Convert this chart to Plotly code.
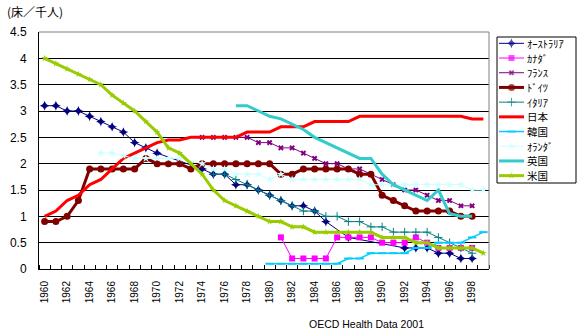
import plotly.graph_objects as go

years = list(range(1960, 2000))
N = None

# Hospital beds per 1000 (acute care)
australia = [3.1, 3.1, 3.0, 3.0, 2.9, 2.8, 2.7, 2.6, 2.4, 2.3,
             2.2, N, N, N, 1.9, 1.8, 1.8, 1.6, 1.6, 1.5,
             1.4, 1.3, 1.2, 1.2, 1.1, 0.9, N, 0.6, N, N,
             N, N, 0.4, 0.4, 0.4, 0.3, 0.3, 0.2, 0.2, N]
canada_start = 1981
canada = [0.6, 0.2, 0.2, 0.2, 0.2, 0.6, 0.6, 0.6, 0.6, 0.5, 0.5, 0.5, 0.6, 0.5, 0.4, 0.4, 0.4, 0.4]
france_start = 1974
france = [2.5, 2.5, 2.5, 2.5, 2.5, 2.4, 2.4, 2.3, 2.3, 2.2, 2.1, 2.0, 2.0, 1.9, 1.9, 1.8,
          1.7, 1.6, 1.5, 1.5, 1.4, 1.3, 1.3, 1.2, 1.2]
germany_start = 1960
germany = [0.9, 0.9, 1.0, 1.3, 1.9, 1.9, 1.9, 1.9, 1.9, 2.1,
           2.0, 2.0, 2.0, 1.9, 2.0, 2.0, 2.0, 2.0, 2.0, 2.0,
           2.0, 1.8, 1.8, 1.9, 1.9, 1.9, 1.9, 1.9, 1.8, 1.8,
           1.4, 1.3, 1.2, 1.1, 1.1, 1.1, 1.1, 1.0, 1.0]
italy_start = 1975
italy = [1.8, 1.8, 1.7, 1.6, 1.5, 1.4, 1.3, 1.2, 1.1, 1.1, 1.0, 1.0, 0.9, 0.9, 0.8,
         0.8, 0.7, 0.7, 0.7, 0.7, 0.6, 0.5, 0.4, 0.3]
japan_start = 1960
japan = [1.0, 1.1, 1.3, 1.4, 1.6, 1.7, 1.9, 2.1, 2.2, 2.3,
         2.4, 2.45, 2.45, 2.5, 2.5, 2.5, 2.5, 2.5, 2.6, 2.6,
         2.6, 2.7, 2.7, 2.7, 2.8, 2.8, 2.8, 2.8, 2.9, 2.9,
         2.9, 2.9, 2.9, 2.9, 2.9, 2.9, 2.9, 2.9, 2.85, 2.85]
korea_start = 1980
korea = [0.1, 0.1, 0.1, 0.1, 0.1, 0.1, 0.1, 0.2, 0.2, 0.3,
         0.3, 0.3, 0.3, 0.4, 0.4, 0.5, 0.5, 0.5, 0.6, 0.7]
netherlands = [N, N, N, N, N, 2.2, 2.2, 2.15, 2.1, 2.1,
               2.1, 2.1, 2.1, N, 2.0, 1.9, 1.9, 1.8, 1.8, 1.8,
               1.7, 1.8, 1.7, 1.7, 1.7, 1.7, 1.7, 1.7, 1.7, 1.6,
               1.6, 1.6, 1.6, 1.6, 1.6, 1.6, 1.6, 1.6, 1.5, 1.5]
uk_start = 1977
uk = [3.1, 3.1, 3.0, 2.9, 2.85, 2.75, 2.65, 2.5, 2.4, 2.3, 2.2, 2.1, 2.1,
      1.8, 1.6, 1.5, 1.4, 1.3, 1.5, 1.05, 1.0, 1.0]
usa_start = 1960
usa = [4.0, 3.9, 3.8, 3.7, 3.6, 3.5, 3.3, 3.15, 3.0, 2.8,
       2.6, 2.3, 2.2, 2.0, 1.8, 1.5, 1.3, 1.2, 1.1, 1.0,
       0.9, 0.9, 0.8, 0.8, 0.7, 0.7, 0.7, 0.7, 0.7, 0.7,
       0.6, 0.6, 0.6, 0.5, 0.5, 0.4, 0.4, 0.4, 0.4, 0.3]

names = ["ｵｰｽﾄﾗﾘｱ", "ｶﾅﾀﾞ", "ﾌﾗﾝｽ", "ﾄﾞｲﾂ", "ｲﾀﾘｱ", "日本", "韓国", "ｵﾗﾝﾀﾞ", "英国", "米国"]
y_ticks = [0, 0.5, 1, 1.5, 2, 2.5, 3, 3.5, 4, 4.5]
y_ticktext = ["0", "0.5", "1", "1.5", "2", "2.5", "3", "3.5", "4", "4.5"]
x_ticks = list(range(1960, 2000, 2))


def pad(start, vals):
    out = [None] * len(years)
    for i, v in enumerate(vals):
        out[start - years[0] + i] = v
    return out


data = [
    australia,
    pad(canada_start, canada),
    pad(france_start, france),
    pad(germany_start, germany),
    pad(italy_start, italy),
    pad(japan_start, japan),
    pad(korea_start, korea),
    netherlands,
    pad(uk_start, uk),
    pad(usa_start, usa),
]

styles = [
    dict(color="#000080", width=1, symbol="star-diamond", size=7, mlw=0),
    dict(color="#FF00FF", width=1, symbol="square", size=6, mlw=0),
    dict(color="#800080", width=1, symbol="x", size=5, mlw=0),
    dict(color="#800000", width=3, symbol="circle", size=7, mlw=0),
    dict(color="#008080", width=1, symbol="cross-thin", size=6, mlw=1),
    dict(color="#FF0000", width=3, symbol=None, size=0, mlw=0),
    dict(color="#00CCFF", width=1.5, symbol="line-ew", size=6, mlw=2),
    dict(color="#CCFFFF", width=1, symbol="star", size=6, mlw=0),
    dict(color="#33CCCC", width=3, symbol=None, size=0, mlw=0),
    dict(color="#99CC00", width=3, symbol="star", size=5, mlw=0),
]

fig = go.Figure()

for nm, vals, st in zip(names, data, styles):
    marker = dict(color=st["color"], size=st["size"],
                  line=dict(color=st["color"], width=st["mlw"]))
    if st["symbol"]:
        marker["symbol"] = st["symbol"]
    fig.add_trace(go.Scatter(
        x=years, y=vals, name=nm, connectgaps=True,
        mode="lines+markers" if st["symbol"] else "lines",
        line=dict(color=st["color"], width=st["width"]),
        marker=marker, showlegend=False,
        xaxis="x", yaxis="y",
    ))

# Manual legend (compact, like the original)
for k, (nm, st) in enumerate(zip(names, styles)):
    marker = dict(color=st["color"], size=[0, st["size"], 0],
                  line=dict(color=st["color"], width=st["mlw"]))
    if st["symbol"]:
        marker["symbol"] = st["symbol"]
    fig.add_trace(go.Scatter(
        x=[2, 14.5, 27], y=[k, k, k], mode="lines+markers" if st["symbol"] else "lines",
        line=dict(color=st["color"], width=st["width"]), marker=marker,
        showlegend=False, xaxis="x2", yaxis="y2", hoverinfo="skip",
    ))
    fig.add_annotation(x=28, y=k, xref="x2", yref="y2", text=nm, showarrow=False,
                       xanchor="left", yanchor="middle",
                       font=dict(family="Noto Sans CJK JP", size=10.5, color="black"))

W, H = 580, 335
ml, mr, mt, mb = 39, 4, 32, 66
pw = W - ml - mr
ph = H - mt - mb

fig.update_layout(
    width=W, height=H,
    margin=dict(l=ml, r=mr, t=mt, b=mb, pad=0),
    paper_bgcolor="white", plot_bgcolor="white",
    font=dict(family="Liberation Sans, Arial", color="black"),
    xaxis=dict(
        domain=[0, 450 / pw], range=[1959.5, 1999.5],
        tickmode="array", tickvals=x_ticks, ticktext=[str(v) for v in x_ticks],
        tickangle=-90, tickfont=dict(size=10, family="Liberation Sans, Arial"),
        ticks="", showgrid=False, zeroline=False,
        showline=True, linecolor="black", linewidth=1,
        ticklabelstandoff=7,
        minor=dict(tickmode="linear", tick0=1959.5, dtick=1, ticks="inside",
                   ticklen=4, tickcolor="black", tickwidth=1, showgrid=False),
    ),
    yaxis=dict(
        range=[0, 4.5], tickmode="array", tickvals=y_ticks, ticktext=y_ticktext,
        tickfont=dict(size=12, family="Liberation Sans, Arial"),
        showgrid=True, gridcolor="black", gridwidth=1, zeroline=False,
        showline=True, linecolor="black", linewidth=1, ticks="",
        ticklabelstandoff=9,
    ),
    xaxis2=dict(domain=[(497 - ml) / pw, (576 - ml) / pw], range=[0, 79],
                anchor="y2", visible=False, fixedrange=True),
    yaxis2=dict(domain=[(H - mb - 183) / ph, (H - mb - 37) / ph], range=[9.5, -0.43],
                anchor="x2", visible=False, fixedrange=True),
    shapes=[
        dict(type="line", xref="x domain", yref="y domain", x0=0, x1=1, y0=1, y1=1,
             line=dict(color="#808080", width=1)),
        dict(type="line", xref="x domain", yref="y domain", x0=1, x1=1, y0=0, y1=1,
             line=dict(color="#808080", width=1)),
        dict(type="rect", xref="x2 domain", yref="y2 domain", x0=0, x1=1, y0=0, y1=1,
             line=dict(color="black", width=1), fillcolor="rgba(0,0,0,0)", layer="below"),
    ],
)

fig.add_annotation(x=(5 - ml) / pw, y=(H - mb - 12) / ph, xref="paper", yref="paper",
                   text="(床／千人)", showarrow=False, xanchor="left", yanchor="middle",
                   font=dict(family="Noto Sans CJK JP", size=12, color="black"))
fig.add_annotation(x=(307 - ml) / pw, y=(H - mb - 324) / ph, xref="paper", yref="paper",
                   text="OECD Health Data 2001", showarrow=False, xanchor="left", yanchor="middle",
                   font=dict(family="Liberation Sans, Arial", size=10.5, color="black"))

fig.write_html("out.html")
